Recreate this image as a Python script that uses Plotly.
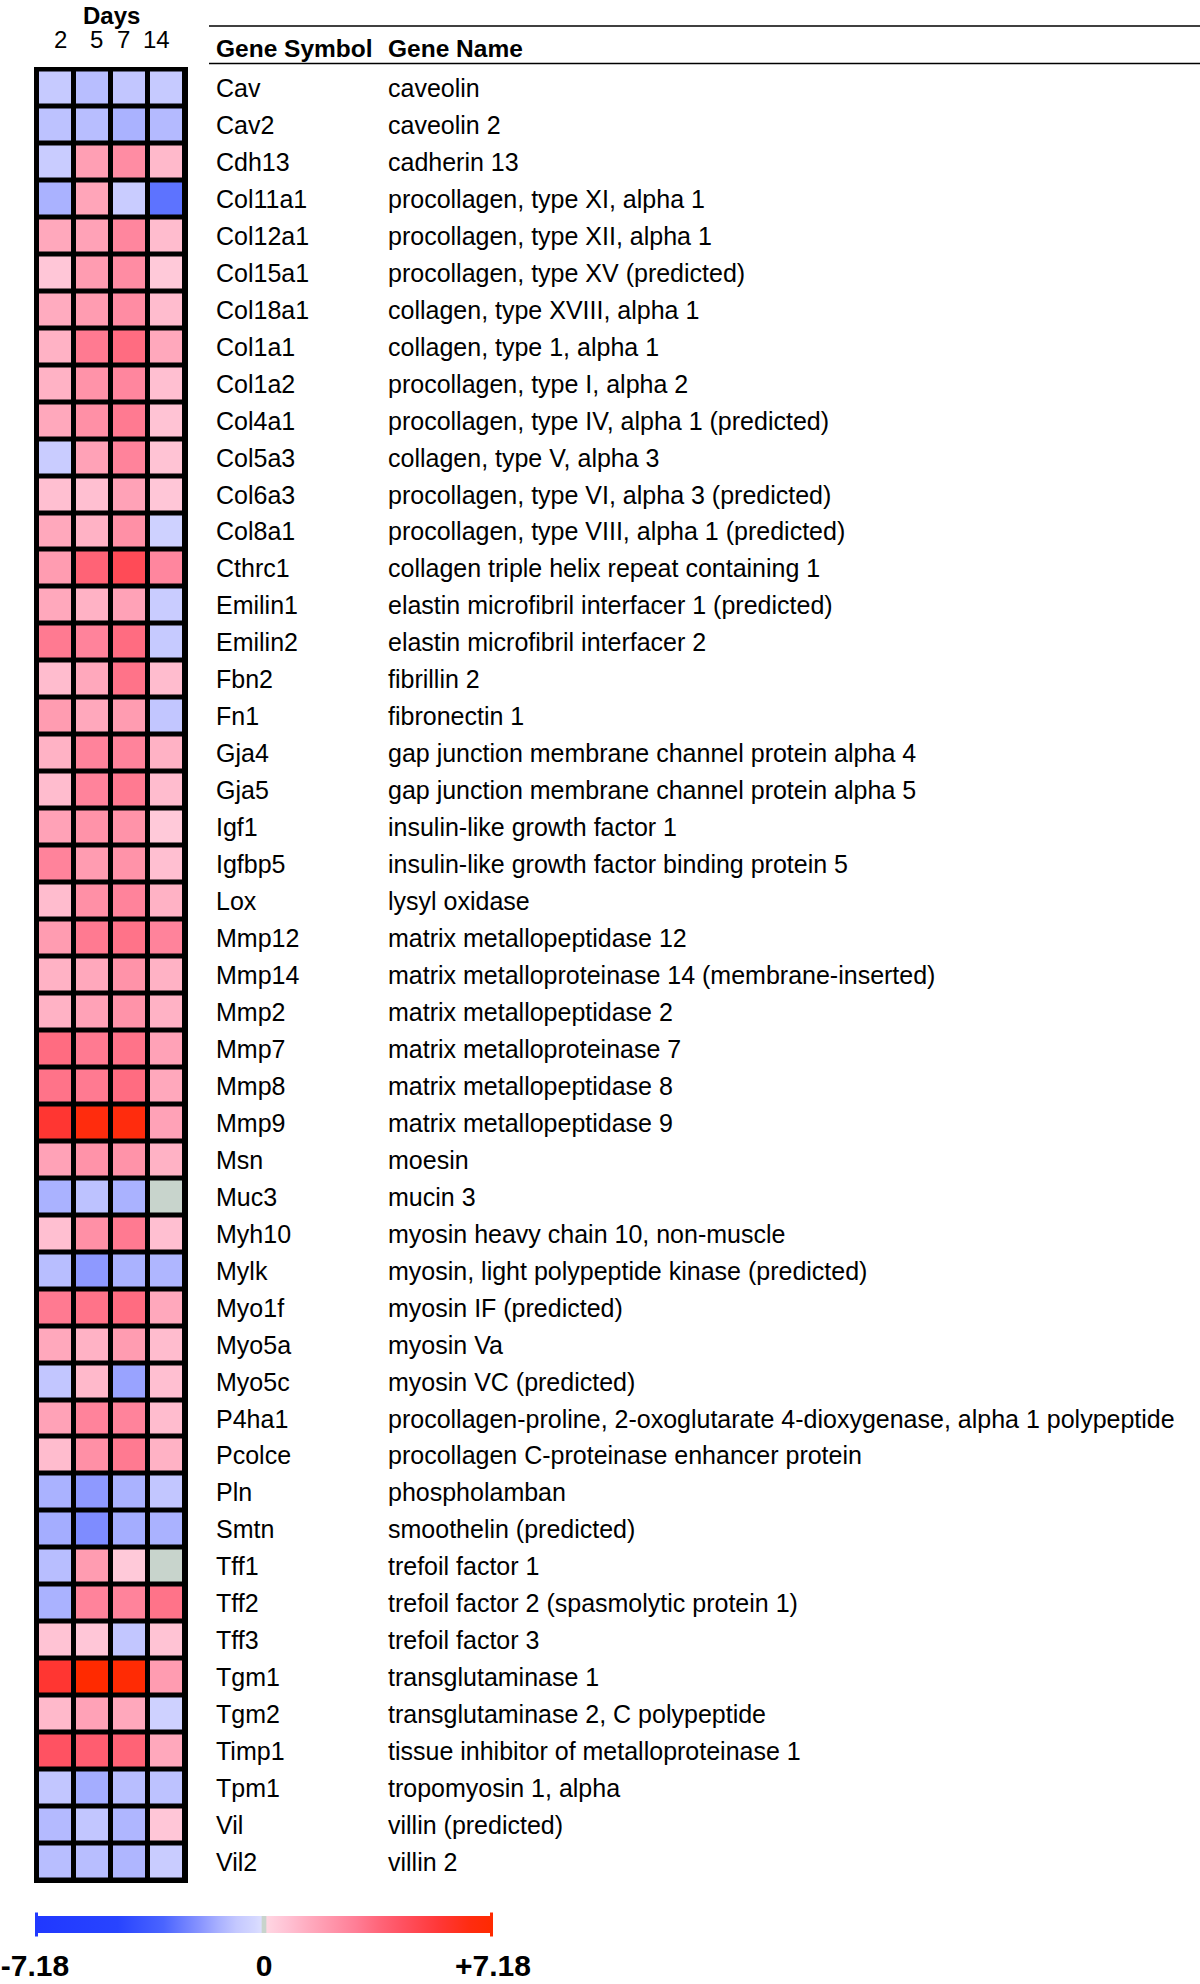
import plotly.graph_objects as go

# ---------------- data ----------------
days = ["2", "5", "7", "14"]
day_pos = [0.14, 1.10, 1.83, 2.73]  # label positions along the day columns

symbols = ["Cav", "Cav2", "Cdh13", "Col11a1", "Col12a1", "Col15a1", "Col18a1", "Col1a1",
           "Col1a2", "Col4a1", "Col5a3", "Col6a3", "Col8a1", "Cthrc1", "Emilin1", "Emilin2",
           "Fbn2", "Fn1", "Gja4", "Gja5", "Igf1", "Igfbp5", "Lox", "Mmp12", "Mmp14", "Mmp2",
           "Mmp7", "Mmp8", "Mmp9", "Msn", "Muc3", "Myh10", "Mylk", "Myo1f", "Myo5a", "Myo5c",
           "P4ha1", "Pcolce", "Pln", "Smtn", "Tff1", "Tff2", "Tff3", "Tgm1", "Tgm2", "Timp1",
           "Tpm1", "Vil", "Vil2"]

names = ["caveolin", "caveolin 2", "cadherin 13", "procollagen, type XI, alpha 1",
         "procollagen, type XII, alpha 1", "procollagen, type XV (predicted)",
         "collagen, type XVIII, alpha 1", "collagen, type 1, alpha 1",
         "procollagen, type I, alpha 2", "procollagen, type IV, alpha 1 (predicted)",
         "collagen, type V, alpha 3", "procollagen, type VI, alpha 3 (predicted)",
         "procollagen, type VIII, alpha 1 (predicted)", "collagen triple helix repeat containing 1",
         "elastin microfibril interfacer 1 (predicted)", "elastin microfibril interfacer 2",
         "fibrillin 2", "fibronectin 1", "gap junction membrane channel protein alpha 4",
         "gap junction membrane channel protein alpha 5", "insulin-like growth factor 1",
         "insulin-like growth factor binding protein 5", "lysyl oxidase",
         "matrix metallopeptidase 12", "matrix metalloproteinase 14 (membrane-inserted)",
         "matrix metallopeptidase 2", "matrix metalloproteinase 7", "matrix metallopeptidase 8",
         "matrix metallopeptidase 9", "moesin", "mucin 3", "myosin heavy chain 10, non-muscle",
         "myosin, light polypeptide kinase (predicted)", "myosin IF (predicted)", "myosin Va",
         "myosin VC (predicted)",
         "procollagen-proline, 2-oxoglutarate 4-dioxygenase, alpha 1 polypeptide",
         "procollagen C-proteinase enhancer protein", "phospholamban", "smoothelin (predicted)",
         "trefoil factor 1", "trefoil factor 2 (spasmolytic protein 1)", "trefoil factor 3",
         "transglutaminase 1", "transglutaminase 2, C polypeptide",
         "tissue inhibitor of metalloproteinase 1", "tropomyosin 1, alpha", "villin (predicted)",
         "villin 2"]

day2 = [-0.8, -1.0, -0.7, -1.4, 1.5, 0.6, 1.4, 1.2, 1.2, 1.5, -0.7, 0.8, 1.5, 1.9, 1.5, 3.0,
        0.9, 1.9, 1.2, 0.9, 1.7, 2.7, 0.9, 1.9, 1.2, 1.2, 3.4, 3.2, 5.6, 1.7, -1.4, 0.8, -1.1,
        3.0, 1.5, -0.9, 1.7, 0.9, -1.4, -1.5, -1.1, -1.4, 0.7, 5.6, 1.0, 4.3, -0.9, -1.2, -1.1]
day5 = [-1.1, -1.1, 1.8, 1.6, 1.7, 1.9, 1.9, 3.0, 2.2, 2.3, 1.7, 0.8, 1.2, 3.7, 1.2, 2.7,
        1.5, 1.5, 2.7, 2.7, 2.2, 1.9, 2.3, 3.0, 1.5, 1.7, 3.0, 3.0, 6.6, 2.2, -1.0, 2.3, -1.9,
        3.2, 1.2, 1.0, 2.7, 2.3, -1.9, -2.2, 1.9, 2.7, 0.6, 7.18, 1.7, 3.9, -1.5, -0.9, -1.1]
day7 = [-0.9, -1.4, 2.4, -0.7, 2.6, 2.4, 2.4, 3.4, 2.6, 3.0, 2.7, 1.7, 2.3, 4.6, 1.7, 3.4,
        3.2, 1.9, 2.7, 3.0, 2.2, 2.2, 2.7, 3.2, 2.2, 2.2, 3.2, 3.4, 6.6, 2.2, -1.4, 3.0, -1.4,
        3.4, 1.9, -1.7, 2.7, 3.0, -1.4, -1.5, 0.5, 2.7, -0.9, 7.0, 1.5, 3.7, -1.1, -1.3, -1.3]
day14 = [-0.8, -1.2, 1.0, -2.8, 0.9, 0.5, 0.9, 1.5, 0.8, 0.7, 0.7, 0.6, -0.5, 2.6, -0.7, -0.8,
         0.9, -0.9, 1.2, 0.9, 0.5, 0.8, 1.2, 2.7, 1.2, 1.2, 1.7, 1.5, 1.7, 1.2, 0.0, 0.8, -1.3,
         1.5, 0.9, 0.8, 0.9, 1.2, -0.9, -1.4, 0.0, 3.2, 0.7, 1.9, -0.5, 1.5, -1.0, 0.6, -0.7]

zlim = 7.18
tick_vals = [-zlim, 0, zlim]
tick_text = ["-7.18", "0", "+7.18"]

# ---------------- styling ----------------
W, H = 1200, 1984
PL, PR, PT, PB = 34, 188, 67, 1883          # plot-area pixel box


def px_x(px):
    return (px - PL) / (PR - PL)


def px_y(py):
    return (PB - py) / (PB - PT)


FONT = "Liberation Sans, Arial, Helvetica, sans-serif"

colorscale = [
    [0.0, "#2038ff"], [0.18, "#2844ff"], [0.28, "#4a64ff"], [0.36, "#8894ff"],
    [0.40, "#a8b0ff"], [0.44, "#c4c8ff"], [0.48, "#d4d7ff"], [0.494, "#dcdeff"],
    [0.4955, "#c8d4cc"], [0.5045, "#c8d4cc"], [0.506, "#ffd6e2"], [0.55, "#ffc2d4"],
    [0.60, "#ffaabe"], [0.65, "#ff94aa"], [0.70, "#ff7e96"], [0.75, "#ff667a"],
    [0.80, "#ff5262"], [0.88, "#ff3838"], [0.95, "#ff2c10"], [1.0, "#ff2a00"],
]

rows = list(range(len(symbols)))
z = [[day2[i], day5[i], day7[i], day14[i]] for i in rows]

CB_X0, CB_X1, CB_TOP, CB_TH = 35, 493, 1916, 17

fig = go.Figure(go.Heatmap(
    z=z, x=[0, 1, 2, 3], y=rows,
    zmin=-zlim, zmax=zlim, colorscale=colorscale,
    xgap=5, ygap=5, hoverinfo="skip",
    colorbar=dict(
        orientation="h", x=px_x(CB_X0), xanchor="left", y=px_y(CB_TOP), yanchor="top",
        len=CB_X1 - CB_X0, lenmode="pixels", thickness=CB_TH, outlinewidth=0, xpad=0, ypad=0,
        tickvals=tick_vals, ticktext=["<b>%s</b>" % t for t in tick_text],
        tickfont=dict(size=30, family=FONT, color="black"),
        ticks="outside", ticklen=7, tickcolor="rgba(0,0,0,0)",
        ticklabeloverflow="allow",
    ),
))

pad_x = 3 / 37.0
pad_y = 2.5 / 36.96
fig.update_xaxes(range=[-0.5 - pad_x, 3.5 + pad_x], visible=False, fixedrange=True)
fig.update_yaxes(range=[len(rows) - 0.5 + pad_y, -0.5 - pad_y], visible=False, fixedrange=True)

ann = []
ann.append(dict(text="<b>Days</b>", x=px_x(111), y=px_y(0), xref="paper", yref="paper",
                showarrow=False, font=dict(size=24, family=FONT, color="black"),
                xanchor="center", yanchor="top"))
for d, p in zip(days, day_pos):
    ann.append(dict(text=d, x=p, y=px_y(40), xref="x", yref="paper", showarrow=False,
                    font=dict(size=24, family=FONT, color="black"),
                    xanchor="center", yanchor="middle"))
ann.append(dict(text="<b>Gene Symbol</b>", x=px_x(214), y=px_y(48.5), xref="paper",
                yref="paper", showarrow=False, font=dict(size=24.5, family=FONT, color="black"),
                xanchor="left", yanchor="middle"))
ann.append(dict(text="<b>Gene Name</b>", x=px_x(386), y=px_y(48.5), xref="paper",
                yref="paper", showarrow=False, font=dict(size=24.5, family=FONT, color="black"),
                xanchor="left", yanchor="middle"))
for i in rows:
    ann.append(dict(text=symbols[i], x=px_x(214), y=i, xref="paper", yref="y",
                    showarrow=False, font=dict(size=25, family=FONT, color="black"),
                    xanchor="left", yanchor="middle"))
    ann.append(dict(text=names[i], x=px_x(386), y=i, xref="paper", yref="y",
                    showarrow=False, font=dict(size=25, family=FONT, color="black"),
                    xanchor="left", yanchor="middle"))

shapes = [
    dict(type="line", xref="paper", yref="paper", x0=px_x(209), x1=px_x(1200),
         y0=px_y(26), y1=px_y(26), line=dict(color="black", width=1.6)),
    dict(type="line", xref="paper", yref="paper", x0=px_x(209), x1=px_x(1200),
         y0=px_y(63.5), y1=px_y(63.5), line=dict(color="black", width=1.6)),
    # small end caps of the colour bar
    dict(type="rect", xref="paper", yref="paper", x0=px_x(CB_X0), x1=px_x(CB_X0 + 3),
         y0=px_y(CB_TOP - 3.5), y1=px_y(CB_TOP + CB_TH + 3.5),
         fillcolor=colorscale[0][1], line=dict(width=0)),
    dict(type="rect", xref="paper", yref="paper", x0=px_x(CB_X1 - 3), x1=px_x(CB_X1),
         y0=px_y(CB_TOP - 3.5), y1=px_y(CB_TOP + CB_TH + 3.5),
         fillcolor=colorscale[-1][1], line=dict(width=0)),
]

fig.update_layout(
    width=W, height=H, autosize=False,
    margin=dict(l=PL, r=W - PR, t=PT, b=H - PB, pad=0, autoexpand=False),
    plot_bgcolor="black", paper_bgcolor="white",
    annotations=ann, shapes=shapes, showlegend=False,
)

fig.write_html("out.html", config={"displayModeBar": False},
               post_script="document.body.style.margin='0';")
